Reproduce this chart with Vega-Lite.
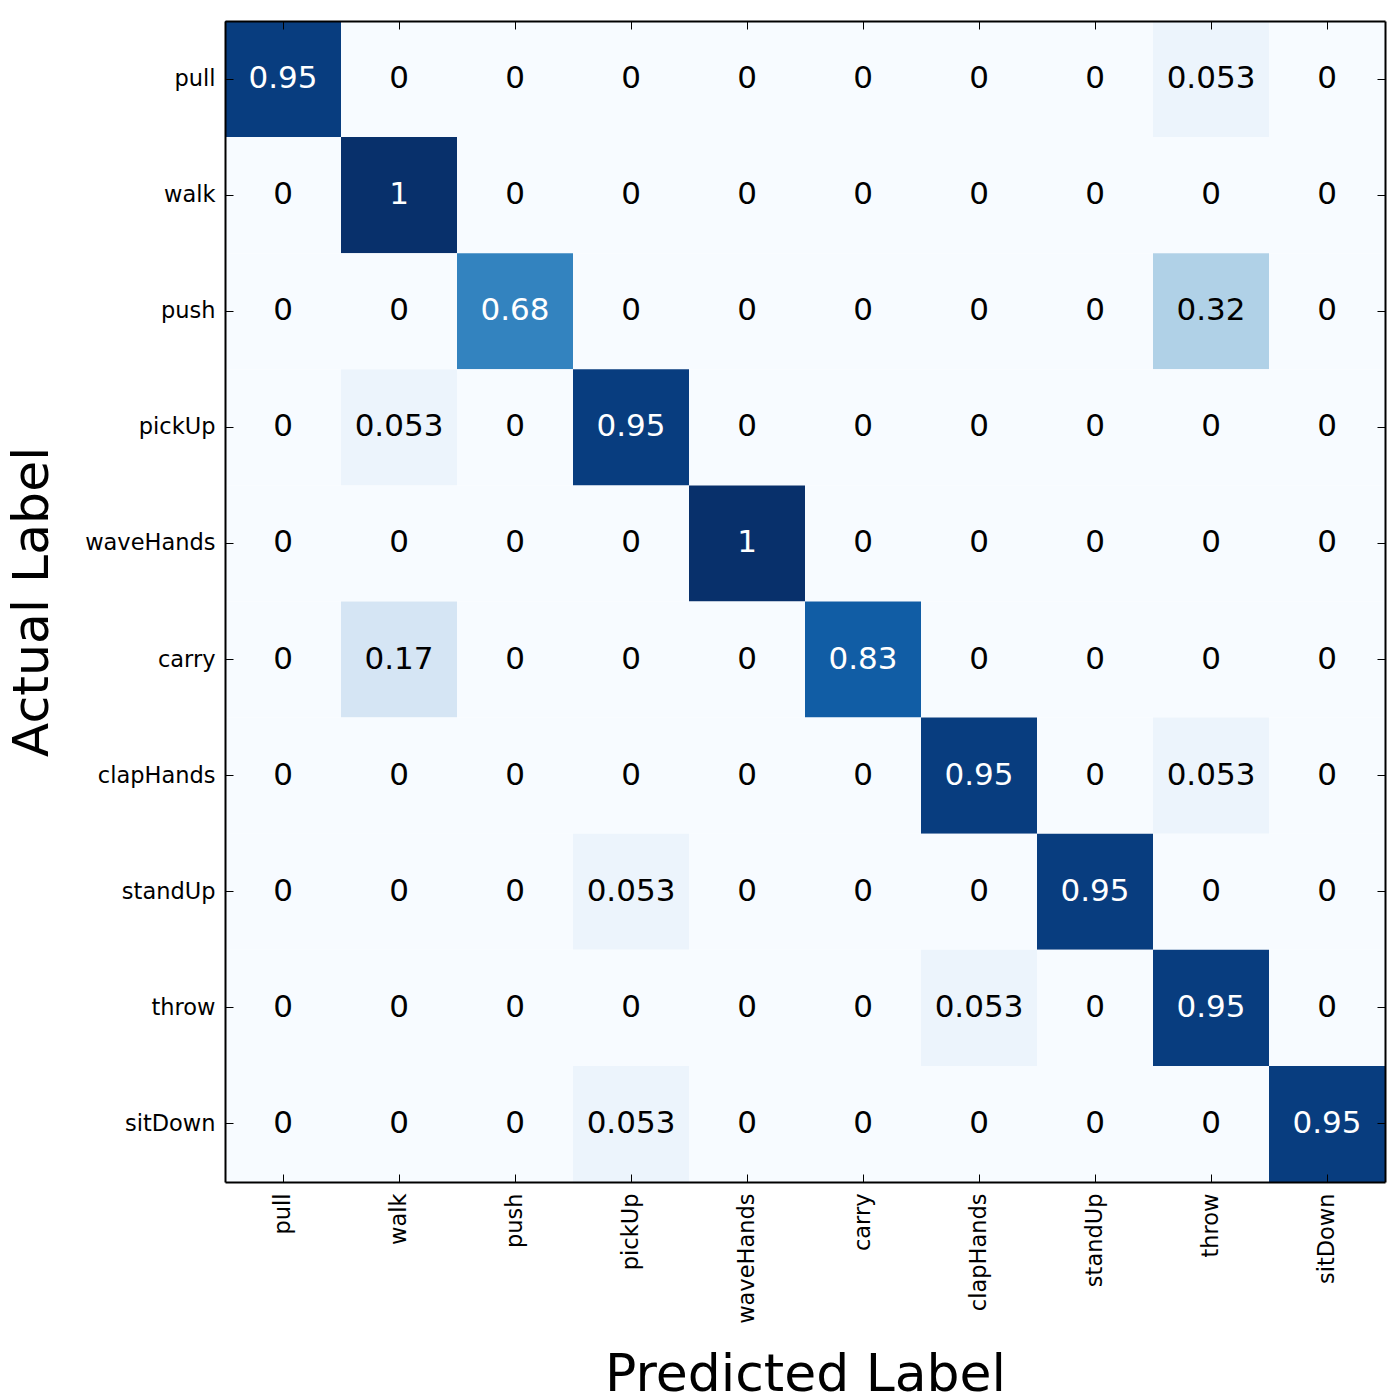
{
  "$schema": "https://vega.github.io/schema/vega-lite/v6.json",
  "autosize": {"type": "none"},
  "padding": {"left": 225, "top": 21, "right": 15, "bottom": 218},
  "width": 1160,
  "height": 1161,
  "background": "white",
  "config": {
    "font": "DejaVu Sans",
    "view": {"stroke": null},
    "axis": {
      "domainColor": "black",
      "domainWidth": 2,
      "tickColor": "black",
      "tickWidth": 1,
      "tickSize": -8,
      "labelColor": "black",
      "labelFont": "DejaVu Sans",
      "labelFontSize": 22.5,
      "titleColor": "black",
      "titleFont": "DejaVu Sans",
      "titleFontSize": 52,
      "titleFontWeight": "normal",
      "grid": false
    }
  },
  "data": {
    "values": [
      {"actual": "pull", "predicted": "pull", "v": 0.95},
      {"actual": "pull", "predicted": "walk", "v": 0},
      {"actual": "pull", "predicted": "push", "v": 0},
      {"actual": "pull", "predicted": "pickUp", "v": 0},
      {"actual": "pull", "predicted": "waveHands", "v": 0},
      {"actual": "pull", "predicted": "carry", "v": 0},
      {"actual": "pull", "predicted": "clapHands", "v": 0},
      {"actual": "pull", "predicted": "standUp", "v": 0},
      {"actual": "pull", "predicted": "throw", "v": 0.053},
      {"actual": "pull", "predicted": "sitDown", "v": 0},

      {"actual": "walk", "predicted": "pull", "v": 0},
      {"actual": "walk", "predicted": "walk", "v": 1},
      {"actual": "walk", "predicted": "push", "v": 0},
      {"actual": "walk", "predicted": "pickUp", "v": 0},
      {"actual": "walk", "predicted": "waveHands", "v": 0},
      {"actual": "walk", "predicted": "carry", "v": 0},
      {"actual": "walk", "predicted": "clapHands", "v": 0},
      {"actual": "walk", "predicted": "standUp", "v": 0},
      {"actual": "walk", "predicted": "throw", "v": 0},
      {"actual": "walk", "predicted": "sitDown", "v": 0},

      {"actual": "push", "predicted": "pull", "v": 0},
      {"actual": "push", "predicted": "walk", "v": 0},
      {"actual": "push", "predicted": "push", "v": 0.68},
      {"actual": "push", "predicted": "pickUp", "v": 0},
      {"actual": "push", "predicted": "waveHands", "v": 0},
      {"actual": "push", "predicted": "carry", "v": 0},
      {"actual": "push", "predicted": "clapHands", "v": 0},
      {"actual": "push", "predicted": "standUp", "v": 0},
      {"actual": "push", "predicted": "throw", "v": 0.32},
      {"actual": "push", "predicted": "sitDown", "v": 0},

      {"actual": "pickUp", "predicted": "pull", "v": 0},
      {"actual": "pickUp", "predicted": "walk", "v": 0.053},
      {"actual": "pickUp", "predicted": "push", "v": 0},
      {"actual": "pickUp", "predicted": "pickUp", "v": 0.95},
      {"actual": "pickUp", "predicted": "waveHands", "v": 0},
      {"actual": "pickUp", "predicted": "carry", "v": 0},
      {"actual": "pickUp", "predicted": "clapHands", "v": 0},
      {"actual": "pickUp", "predicted": "standUp", "v": 0},
      {"actual": "pickUp", "predicted": "throw", "v": 0},
      {"actual": "pickUp", "predicted": "sitDown", "v": 0},

      {"actual": "waveHands", "predicted": "pull", "v": 0},
      {"actual": "waveHands", "predicted": "walk", "v": 0},
      {"actual": "waveHands", "predicted": "push", "v": 0},
      {"actual": "waveHands", "predicted": "pickUp", "v": 0},
      {"actual": "waveHands", "predicted": "waveHands", "v": 1},
      {"actual": "waveHands", "predicted": "carry", "v": 0},
      {"actual": "waveHands", "predicted": "clapHands", "v": 0},
      {"actual": "waveHands", "predicted": "standUp", "v": 0},
      {"actual": "waveHands", "predicted": "throw", "v": 0},
      {"actual": "waveHands", "predicted": "sitDown", "v": 0},

      {"actual": "carry", "predicted": "pull", "v": 0},
      {"actual": "carry", "predicted": "walk", "v": 0.17},
      {"actual": "carry", "predicted": "push", "v": 0},
      {"actual": "carry", "predicted": "pickUp", "v": 0},
      {"actual": "carry", "predicted": "waveHands", "v": 0},
      {"actual": "carry", "predicted": "carry", "v": 0.83},
      {"actual": "carry", "predicted": "clapHands", "v": 0},
      {"actual": "carry", "predicted": "standUp", "v": 0},
      {"actual": "carry", "predicted": "throw", "v": 0},
      {"actual": "carry", "predicted": "sitDown", "v": 0},

      {"actual": "clapHands", "predicted": "pull", "v": 0},
      {"actual": "clapHands", "predicted": "walk", "v": 0},
      {"actual": "clapHands", "predicted": "push", "v": 0},
      {"actual": "clapHands", "predicted": "pickUp", "v": 0},
      {"actual": "clapHands", "predicted": "waveHands", "v": 0},
      {"actual": "clapHands", "predicted": "carry", "v": 0},
      {"actual": "clapHands", "predicted": "clapHands", "v": 0.95},
      {"actual": "clapHands", "predicted": "standUp", "v": 0},
      {"actual": "clapHands", "predicted": "throw", "v": 0.053},
      {"actual": "clapHands", "predicted": "sitDown", "v": 0},

      {"actual": "standUp", "predicted": "pull", "v": 0},
      {"actual": "standUp", "predicted": "walk", "v": 0},
      {"actual": "standUp", "predicted": "push", "v": 0},
      {"actual": "standUp", "predicted": "pickUp", "v": 0.053},
      {"actual": "standUp", "predicted": "waveHands", "v": 0},
      {"actual": "standUp", "predicted": "carry", "v": 0},
      {"actual": "standUp", "predicted": "clapHands", "v": 0},
      {"actual": "standUp", "predicted": "standUp", "v": 0.95},
      {"actual": "standUp", "predicted": "throw", "v": 0},
      {"actual": "standUp", "predicted": "sitDown", "v": 0},

      {"actual": "throw", "predicted": "pull", "v": 0},
      {"actual": "throw", "predicted": "walk", "v": 0},
      {"actual": "throw", "predicted": "push", "v": 0},
      {"actual": "throw", "predicted": "pickUp", "v": 0},
      {"actual": "throw", "predicted": "waveHands", "v": 0},
      {"actual": "throw", "predicted": "carry", "v": 0},
      {"actual": "throw", "predicted": "clapHands", "v": 0.053},
      {"actual": "throw", "predicted": "standUp", "v": 0},
      {"actual": "throw", "predicted": "throw", "v": 0.95},
      {"actual": "throw", "predicted": "sitDown", "v": 0},

      {"actual": "sitDown", "predicted": "pull", "v": 0},
      {"actual": "sitDown", "predicted": "walk", "v": 0},
      {"actual": "sitDown", "predicted": "push", "v": 0},
      {"actual": "sitDown", "predicted": "pickUp", "v": 0.053},
      {"actual": "sitDown", "predicted": "waveHands", "v": 0},
      {"actual": "sitDown", "predicted": "carry", "v": 0},
      {"actual": "sitDown", "predicted": "clapHands", "v": 0},
      {"actual": "sitDown", "predicted": "standUp", "v": 0},
      {"actual": "sitDown", "predicted": "throw", "v": 0},
      {"actual": "sitDown", "predicted": "sitDown", "v": 0.95}
    ]
  },
  "layer": [
    {
      "mark": {"type": "rect"},
      "encoding": {
        "x": {
          "field": "predicted", "type": "nominal",
          "sort": ["pull", "walk", "push", "pickUp", "waveHands", "carry", "clapHands", "standUp", "throw", "sitDown"],
          "scale": {"paddingInner": 0, "paddingOuter": 0},
          "axis": {"orient": "bottom", "title": "Predicted Label", "labelAngle": 270, "labelPadding": 19, "titlePadding": 26, "zindex": 1}
        },
        "y": {
          "field": "actual", "type": "nominal",
          "sort": ["pull", "walk", "push", "pickUp", "waveHands", "carry", "clapHands", "standUp", "throw", "sitDown"],
          "scale": {"paddingInner": 0, "paddingOuter": 0},
          "axis": {"orient": "left", "title": "Actual Label", "titleFontSize": 50.5, "labelPadding": 18, "titlePadding": 26, "zindex": 1}
        },
        "color": {
          "field": "v", "type": "quantitative",
          "scale": {
            "domain": [0, 0.125, 0.25, 0.375, 0.5, 0.625, 0.75, 0.875, 1],
            "range": ["#f7fbff", "#deebf7", "#c6dbef", "#9ecae1", "#6baed6", "#4292c6", "#2171b5", "#08519c", "#08306b"],
            "interpolate": "rgb"
          },
          "legend": null
        }
      }
    },
    {
      "mark": {"type": "text", "fontSize": 31, "font": "DejaVu Sans", "baseline": "middle", "align": "center"},
      "encoding": {
        "x": {
          "field": "predicted", "type": "nominal",
          "sort": ["pull", "walk", "push", "pickUp", "waveHands", "carry", "clapHands", "standUp", "throw", "sitDown"],
          "axis": {"orient": "top", "labels": false, "title": null, "zindex": 1}
        },
        "y": {
          "field": "actual", "type": "nominal",
          "sort": ["pull", "walk", "push", "pickUp", "waveHands", "carry", "clapHands", "standUp", "throw", "sitDown"],
          "axis": {"orient": "right", "labels": false, "title": null, "zindex": 1}
        },
        "text": {"field": "v", "type": "quantitative", "format": ".2~g"},
        "color": {
          "condition": {"test": "datum.v > 0.5", "value": "white"},
          "value": "black"
        }
      }
    }
  ],
  "resolve": {"axis": {"x": "independent", "y": "independent"}}
}
